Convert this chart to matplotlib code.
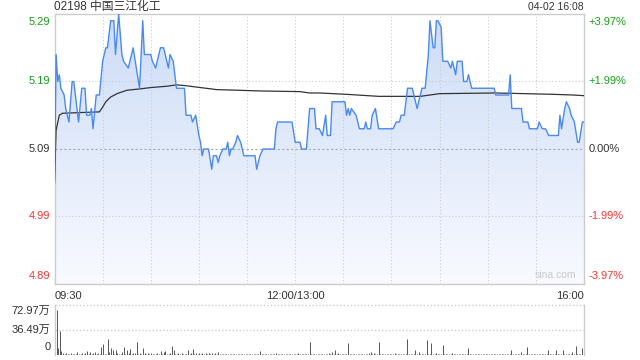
import matplotlib
matplotlib.use("Agg")
import matplotlib.pyplot as plt
import numpy as np
from matplotlib.patches import Polygon

plt.rcParams['font.family'] = ['Liberation Sans', 'Noto Sans CJK SC', 'DejaVu Sans']

title = "02198 中国三江化工"
stamp = "04-02 16:08"
base_price = 5.09
price_ticks = [5.29, 5.19, 5.09, 4.99, 4.89]
pct_labels = ["+3.97%", "+1.99%", "0.00%", "-1.99%", "-3.97%"]
x_labels = ["09:30", "12:00/13:00", "16:00"]
x_label_pos = [0, 150, 330]
vol_tick_labels = ["72.97万", "36.49万", "0"]
vol_ticks = [72.97, 36.49, 0]

# price line: minutes since open (trading timeline) and price
price_min = [0, 1, 2, 3, 4, 6, 7, 9, 11, 12, 14, 15, 17, 19, 20, 22, 23, 24, 26, 28,
             30, 31, 32, 33, 35, 37, 38, 40, 42, 43, 46, 49, 53, 55, 56, 60, 61, 63, 64, 66,
             68, 70, 71, 72, 74, 76, 81, 82, 85, 86, 88, 90, 91, 92, 93, 96, 98, 99, 101, 102,
             103, 105, 107, 108, 109, 110, 111, 113, 114, 116, 118, 125, 126, 128, 130, 137, 138, 139, 148, 150,
             153, 154, 157, 159, 162, 163, 165, 167, 169, 170, 172, 173, 181, 182, 183, 184, 185, 188, 189, 190,
             193, 194, 195, 197, 198, 200, 202, 211, 213, 215, 216, 218, 220, 223, 226, 227, 229, 231, 233, 234,
             236, 237, 238, 239, 241, 242, 245, 247, 248, 250, 251, 254, 255, 257, 258, 260, 274, 275, 283, 284,
             285, 291, 292, 295, 296, 301, 302, 304, 306, 308, 314, 315, 316, 318, 319, 321, 322, 324, 326, 327,
             329, 330]
price_val = [5.04, 5.23, 5.19, 5.20, 5.18, 5.17, 5.15, 5.13, 5.19, 5.19, 5.15, 5.13, 5.18, 5.18, 5.14, 5.14, 5.15, 5.12, 5.17, 5.17,
             5.22, 5.23, 5.24, 5.24, 5.28, 5.28, 5.23, 5.29, 5.23, 5.22, 5.21, 5.24, 5.18, 5.28, 5.23, 5.23, 5.22, 5.21, 5.22, 5.24,
             5.24, 5.22, 5.21, 5.23, 5.22, 5.18, 5.18, 5.14, 5.14, 5.13, 5.14, 5.11, 5.10, 5.08, 5.09, 5.09, 5.06, 5.08, 5.08, 5.07,
             5.08, 5.09, 5.09, 5.10, 5.08, 5.09, 5.09, 5.10, 5.11, 5.10, 5.08, 5.08, 5.06, 5.08, 5.09, 5.09, 5.12, 5.13, 5.13, 5.10,
             5.10, 5.09, 5.09, 5.15, 5.15, 5.12, 5.12, 5.11, 5.14, 5.11, 5.11, 5.16, 5.16, 5.14, 5.15, 5.14, 5.15, 5.14, 5.13, 5.12,
             5.12, 5.13, 5.12, 5.12, 5.14, 5.15, 5.12, 5.12, 5.13, 5.13, 5.14, 5.14, 5.18, 5.18, 5.15, 5.16, 5.18, 5.18, 5.23, 5.28,
             5.24, 5.24, 5.28, 5.28, 5.27, 5.22, 5.22, 5.21, 5.22, 5.20, 5.22, 5.22, 5.19, 5.19, 5.20, 5.18, 5.18, 5.17, 5.17, 5.20,
             5.15, 5.15, 5.13, 5.13, 5.12, 5.12, 5.13, 5.12, 5.12, 5.11, 5.11, 5.14, 5.12, 5.15, 5.16, 5.15, 5.14, 5.13, 5.10, 5.10,
             5.13, 5.13]

# average price line
avg_min = [0, 1, 3, 5, 28, 30, 32, 35, 39, 45, 53, 60, 70, 76, 81, 91, 101, 115, 128, 153,
           159, 165, 182, 202, 228, 240, 275, 311, 323, 330]
avg_val = [5.04, 5.118, 5.140, 5.143, 5.145, 5.152, 5.160, 5.167, 5.172, 5.177, 5.179, 5.181, 5.183, 5.185, 5.184, 5.181,
           5.178, 5.177, 5.176, 5.175, 5.173, 5.173, 5.171, 5.168, 5.168, 5.172, 5.173, 5.171, 5.170, 5.169]

# volume per minute (万)
volume = [72.97, 65.7, 9.7, 35.5, 5.8, 2.4, 1.5, 3.4, 1.2, 2.0,
          3.4, 1.0, 1.5, 2.0, 4.0, 1.2, 1.8, 3.4, 1.0, 2.4,
          5.8, 2.0, 4.0, 1.5, 3.0, 4.0, 1.2, 3.4, 2.0, 12.2,
          16.0, 2.0, 1.5, 23.3, 4.0, 9.7, 7.3, 2.0, 7.3, 3.4,
          1.5, 2.0, 4.0, 11.2, 2.0, 7.3, 2.4, 8.7, 1.5, 3.0,
          3.4, 19.5, 1.5, 2.4, 1.0, 9.7, 3.0, 1.0, 2.4, 1.2,
          2.4, 1.0, 1.5, 1.0, 3.4, 1.5, 5.8, 2.0, 4.5, 5.8,
          2.0, 1.5, 3.0, 13.6, 7.3, 2.0, 1.5, 3.4, 1.0, 2.4,
          1.2, 2.0, 1.0, 7.3, 2.0, 3.4, 8.7, 1.0, 2.4, 1.5,
          2.4, 1.0, 3.4, 1.5, 3.0, 1.0, 2.4, 1.2, 3.4, 1.0,
          2.4, 1.0, 4.5, 1.5, 1.0, 2.0, 1.0, 1.5, 1.0, 2.0,
          1.0, 1.5, 1.0, 2.0, 1.0, 1.5, 1.0, 2.0, 1.0, 1.5,
          1.0, 2.0, 1.0, 1.5, 1.0, 2.0, 1.0, 1.5, 5.8, 1.5,
          1.0, 2.0, 1.5, 1.0, 2.0, 1.0, 1.5, 1.0, 2.4, 1.0,
          1.5, 1.0, 2.0, 1.0, 1.5, 1.0, 2.0, 1.0, 1.5, 1.0,
          2.0, 1.0, 3.4, 1.0, 1.5, 2.0, 1.0, 1.5, 1.0, 19.5,
          1.0, 2.0, 1.0, 1.5, 1.0, 2.0, 1.0, 1.5, 1.0, 2.0,
          1.0, 3.4, 1.5, 4.5, 1.0, 6.8, 2.0, 3.4, 1.0, 1.5,
          1.0, 2.0, 1.0, 17.0, 1.0, 1.5, 2.0, 1.0, 1.5, 1.0,
          2.0, 1.0, 1.5, 1.0, 2.0, 1.0, 2.4, 4.5, 1.0, 3.4,
          1.0, 2.0, 19.5, 1.5, 1.0, 2.0, 1.0, 1.5, 1.0, 2.0,
          1.0, 1.5, 3.4, 1.0, 2.0, 1.0, 1.5, 1.0, 2.0, 1.0,
          23.3, 1.5, 2.0, 1.0, 1.5, 6.8, 1.0, 4.5, 1.5, 1.0,
          2.0, 1.0, 21.9, 1.5, 1.0, 17.0, 1.5, 1.0, 3.4, 1.0,
          2.0, 1.0, 14.6, 1.5, 1.0, 2.0, 1.0, 1.5, 3.4, 1.0,
          1.5, 2.0, 1.0, 1.5, 1.0, 2.0, 1.0, 1.5, 10.7, 1.0,
          1.5, 1.0, 2.0, 1.0, 1.5, 1.0, 2.0, 1.0, 1.5, 1.0,
          2.0, 1.0, 1.5, 1.0, 2.0, 1.0, 1.5, 1.0, 2.0, 1.0,
          1.5, 1.0, 2.0, 1.0, 1.5, 7.3, 1.0, 1.5, 2.0, 1.0,
          1.5, 4.5, 1.0, 2.0, 1.0, 12.2, 1.5, 1.0, 2.0, 1.0,
          1.5, 1.0, 2.0, 1.0, 1.5, 1.0, 2.0, 1.0, 6.8, 1.5,
          1.0, 2.0, 1.0, 6.8, 1.5, 1.0, 2.0, 6.8, 1.0, 1.5,
          2.0, 1.0, 1.5, 4.5, 1.0, 13.6, 1.5, 2.0, 1.0, 10.7,
          1.5]

GREEN = '#1a9e1a'
RED = '#f03a3a'
DARK = '#333333'
FRAME = '#cccccc'
LINE = '#4a8af0'

fig = plt.figure(figsize=(6.4, 3.6), dpi=100)
W, H = 640.0, 360.0
L, R = 54.5, 584.0
ax = fig.add_axes([L / W, 1 - 284 / H, (R - L) / W, (284 - 14) / H])
axv = fig.add_axes([L / W, 1 - 355 / H, (R - L) / W, (355 - 305) / H])

ymin, ymax = price_ticks[-1], price_ticks[0]
ax.set_xlim(0, 330)
ax.set_ylim(ymin, ymax)

# gradient fill under price line
grad = np.linspace(0, 1, 256).reshape(-1, 1)
top_c = np.array([204, 220, 247]) / 255.0
bot_c = np.array([248, 250, 255]) / 255.0
img = top_c * (1 - grad[..., None]) + bot_c * grad[..., None]
img = img.reshape(256, 1, 3)
im = ax.imshow(img, extent=[0, 330, ymin, ymax], origin='upper', aspect='auto', zorder=1)
verts = [(price_min[0], ymin)] + list(zip(price_min, price_val)) + [(price_min[-1], ymin)]
poly = Polygon(verts, closed=True, facecolor='none', edgecolor='none')
ax.add_patch(poly)
im.set_clip_path(poly)

# grid
for i in range(1, 11):
    ax.axvline(i * 30, color=FRAME, lw=0.8, ls=(0, (1, 2)), zorder=2)
for p in [5.19, 4.99]:
    ax.axhline(p, color=FRAME, lw=0.8, ls=(0, (1, 2)), zorder=2)
ax.axhline(base_price, color='#aaaaaa', lw=0.8, ls=(0, (2, 2)), zorder=2)

ax.plot(price_min, price_val, color=LINE, lw=1.0, zorder=4)
ax.plot(avg_min, avg_val, color=DARK, lw=0.9, zorder=3)

for s in ax.spines.values():
    s.set_color(FRAME)
    s.set_linewidth(1.0)
ax.set_xticks([])
ax.set_yticks([])

fs = 8
colors = [GREEN, GREEN, DARK, RED, RED]
vas = ['top', 'center', 'center', 'center', 'bottom']
offs = [-0.004, 0, 0, 0, 0.004]
for p, lab, c, va, o in zip(price_ticks, pct_labels, colors, vas, offs):
    ax.text(-0.008, p + o, f"{p:.2f}", transform=ax.get_yaxis_transform(), ha='right', va=va,
            color=c, fontsize=fs)
    ax.text(1.008, p + o, lab, transform=ax.get_yaxis_transform(), ha='left', va=va,
            color=c, fontsize=fs)

has = ['left', 'center', 'right']
for xp, lab, ha in zip(x_label_pos, x_labels, has):
    ax.text(xp, -0.025, lab, transform=ax.get_xaxis_transform(), ha=ha, va='top',
            color=DARK, fontsize=fs)

ax.text(0, 1.027, title, transform=ax.transAxes, ha='left', va='center', color=DARK, fontsize=8.5)
ax.text(1, 1.027, stamp, transform=ax.transAxes, ha='right', va='center', color=DARK, fontsize=7.5)
ax.text(0.985, 0.015, "sina.com", transform=ax.transAxes, ha='right', va='bottom',
        color='#c8c8c8', fontsize=7.5, zorder=5)

# volume
vx = np.arange(len(volume))
axv.vlines(vx, 0, volume, color='#555555', lw=0.7)
axv.set_xlim(-0.3, 330.3)
axv.set_ylim(0, vol_ticks[0])
axv.axhline(vol_ticks[0], color=FRAME, lw=1.0, ls=(0, (1, 1.5)), clip_on=False)
axv.axhline(vol_ticks[1], color=FRAME, lw=1.0, ls=(0, (1, 1.5)))
axv.set_xticks([])
axv.set_yticks([])
for k in ['top', 'bottom']:
    axv.spines[k].set_visible(False)
for k in ['left', 'right']:
    axv.spines[k].set_color(FRAME)
    axv.spines[k].set_linewidth(1.0)
vvas = ['top', 'center', 'bottom']
voffs = [-1.5, 0, 4.0]
for v, lab, va, o in zip(vol_ticks, vol_tick_labels, vvas, voffs):
    axv.text(-0.008, v + o, lab, transform=axv.get_yaxis_transform(), ha='right', va=va,
             color=DARK, fontsize=fs)

fig.savefig("out.png", dpi=100)
